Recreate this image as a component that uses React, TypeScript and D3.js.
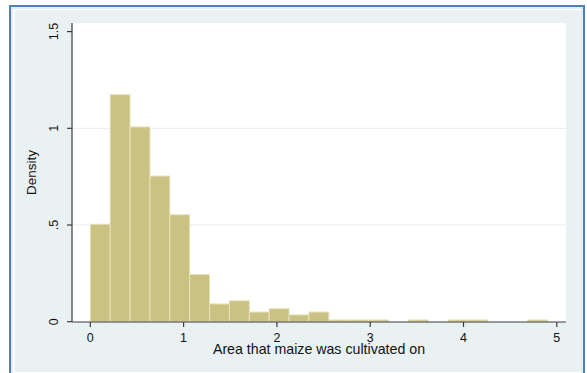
import React from "react";
import * as d3 from "d3";

const binStart = 0;
const binWidth = 4.9 / 23;
const densities = [
  0.504, 1.174, 1.007, 0.753, 0.553, 0.244, 0.092, 0.108, 0.05, 0.067, 0.035,
  0.05, 0.009, 0.009, 0.009, 0, 0.009, 0, 0.009, 0.009, 0, 0, 0.009,
];
const xTicks = [0, 1, 2, 3, 4, 5];
const yTicks = [0, 0.5, 1, 1.5];
const yTickLabels = ["0", ".5", "1", "1.5"];
const xTitle = "Area that maize was cultivated on";
const yTitle = "Density";

const W = 587;
const H = 373;
const plot = { left: 72, top: 23, right: 566, bottom: 322 };
const font = "'Liberation Sans', Arial, sans-serif";

export default function App() {
  const x = d3.scaleLinear().domain([0, 5]).range([90.3, 556.8]);
  const y = d3.scaleLinear().domain([0, 1.5]).range([321.7, 31.6]);
  const bins = densities.map((d, i) => ({
    x0: binStart + i * binWidth,
    x1: binStart + (i + 1) * binWidth,
    d,
  }));
  return (
    <svg
      width={W}
      height={H}
      style={{ position: "absolute", left: 0, top: 0, background: "#fff" }}
      fontFamily={font}
    >
      <rect x={0} y={0} width={W} height={H} fill="#fff" />
      <rect x={10} y={6} width={574} height={380} fill="none" stroke="#4f7fc0" strokeWidth={2} />
      <rect x={12} y={8} width={570} height={380} fill="none" stroke="#c9d9ee" strokeWidth={1} />
      <rect x={15} y={10} width={566} height={362} fill="#eaf1f3" />
      <rect x={plot.left} y={plot.top} width={plot.right - plot.left} height={plot.bottom - plot.top} fill="#fff" />
      {yTicks
        .filter((t) => t > 0 && t < 1.5)
        .map((t) => (
          <line key={t} x1={plot.left} x2={plot.right} y1={y(t)} y2={y(t)} stroke="#e4edf1" strokeWidth={1} />
        ))}
      {bins
        .filter((b) => b.d > 0)
        .map((b, i) => (
          <rect
            key={i}
            x={x(b.x0)}
            y={y(b.d)}
            width={x(b.x1) - x(b.x0)}
            height={y(0) - y(b.d)}
            fill="#c9c282"
            stroke="#e6e2bd"
            strokeWidth={1}
          />
        ))}
      <line x1={plot.left} x2={plot.left} y1={plot.top} y2={plot.bottom} stroke="#3c3c3c" strokeWidth={1.2} />
      <line x1={plot.left} x2={plot.right} y1={plot.bottom} y2={plot.bottom} stroke="#3c3c3c" strokeWidth={1.2} />
      {yTicks.map((t, i) => (
        <g key={t}>
          <line x1={plot.left - 5} x2={plot.left} y1={y(t)} y2={y(t)} stroke="#3c3c3c" strokeWidth={1.2} />
          <text
            transform={`translate(${57.5},${y(t)}) rotate(-90)`}
            textAnchor="middle"
            fontSize={12.5}
            fill="#111"
          >
            {yTickLabels[i]}
          </text>
        </g>
      ))}
      {xTicks.map((t) => (
        <g key={t}>
          <line x1={x(t)} x2={x(t)} y1={plot.bottom} y2={plot.bottom + 5} stroke="#3c3c3c" strokeWidth={1.2} />
          <text x={x(t)} y={341.5} textAnchor="middle" fontSize={12.5} fill="#111">
            {t}
          </text>
        </g>
      ))}
      <text x={(plot.left + plot.right) / 2} y={353.5} textAnchor="middle" fontSize={14.2} fill="#111">
        {xTitle}
      </text>
      <text
        transform={`translate(${36},${(plot.top + plot.bottom) / 2}) rotate(-90)`}
        textAnchor="middle"
        fontSize={13.5}
        fill="#111"
      >
        {yTitle}
      </text>
    </svg>
  );
}
